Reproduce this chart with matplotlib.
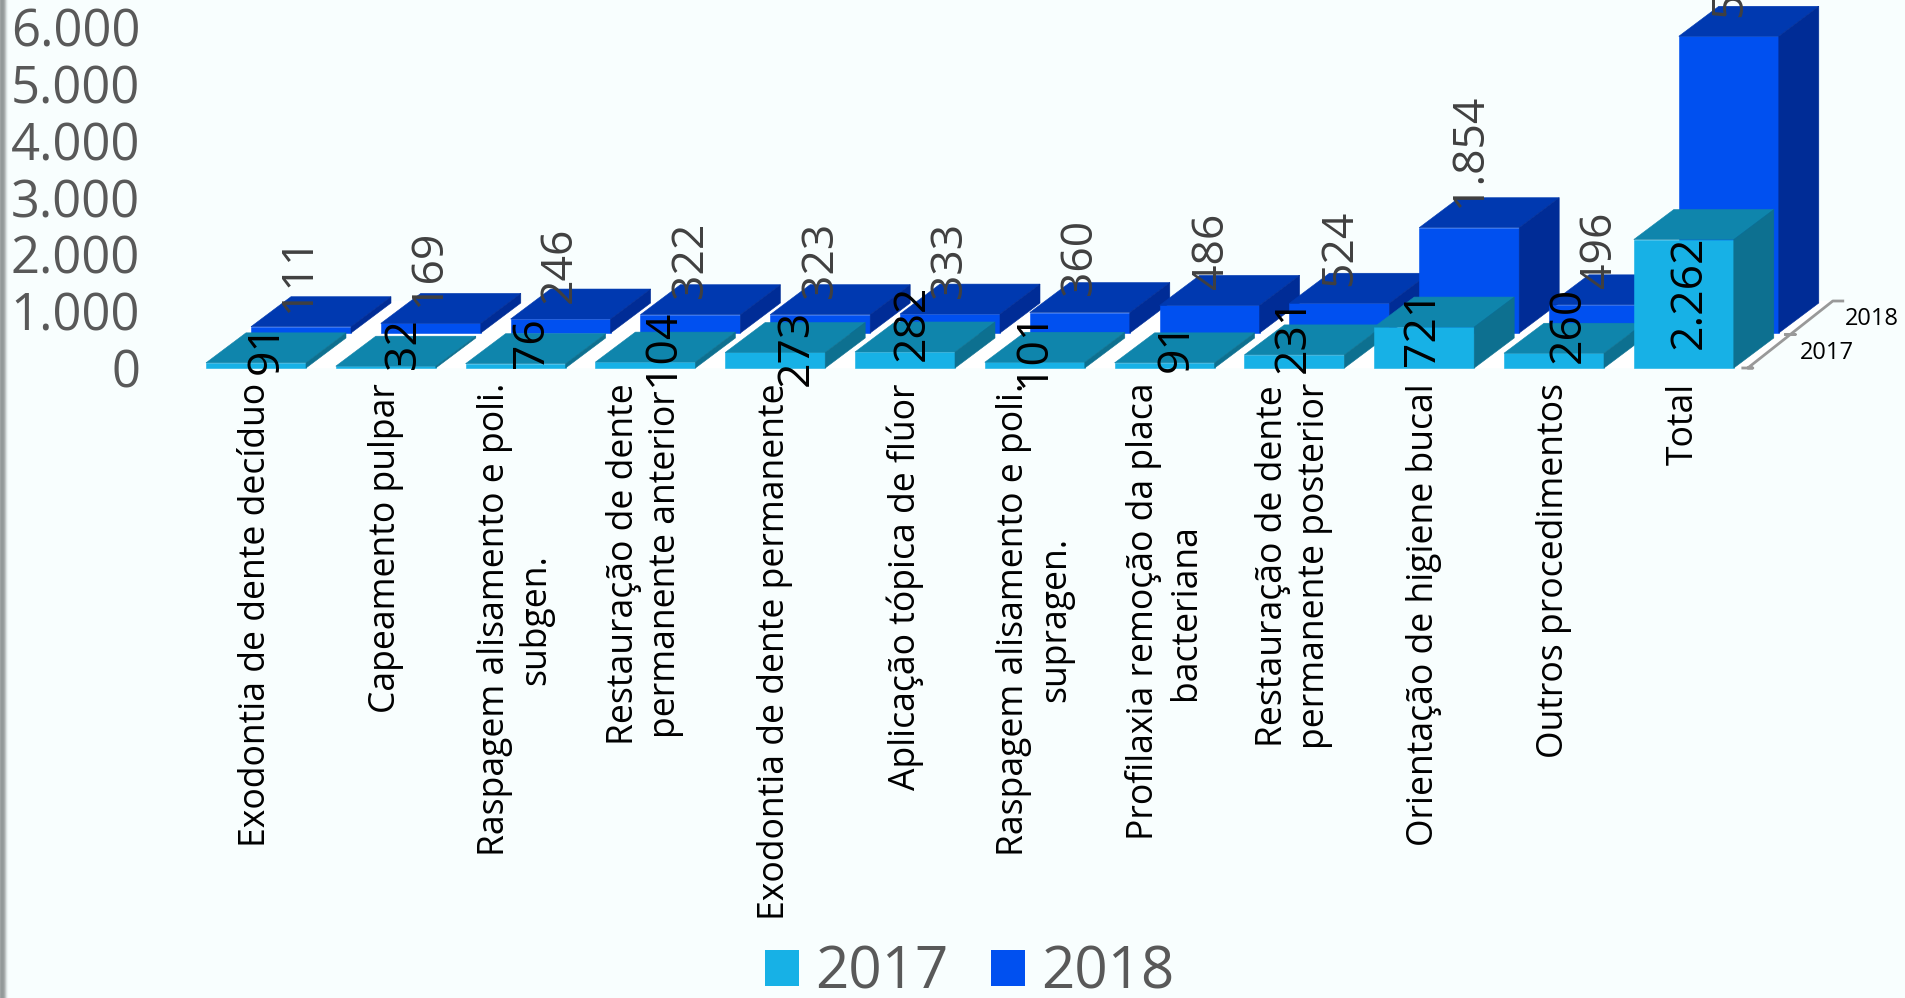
import numpy as np
import matplotlib
matplotlib.use("Agg")
import matplotlib.pyplot as plt
from matplotlib.patches import Polygon, Patch

plt.rcParams['font.family'] = ['Open Sans', 'DejaVu Sans']

# ---- data ----
categories = ["Exodontia de dente decíduo", "Capeamento pulpar",
              "Raspagem alisamento e poli.\nsubgen.",
              "Restauração de dente\npermanente anterior",
              "Exodontia de dente permanente", "Aplicação tópica de flúor",
              "Raspagem alisamento e poli.\nsupragen.",
              "Profilaxia remoção da placa\nbacteriana",
              "Restauração de dente\npermanente posterior",
              "Orientação de higiene bucal", "Outros procedimentos", "Total"]
values_2017 = [91, 32, 76, 104, 273, 282, 101, 91, 231, 721, 260, 2262]
values_2018 = [111, 169, 246, 322, 323, 333, 360, 486, 524, 1854, 496, 5224]
labels_2017 = ["91", "32", "76", "104", "273", "282", "101", "91", "231", "721", "260", "2.262"]
labels_2018 = ["111", "169", "246", "322", "323", "333", "360", "486", "524", "1.854", "496", "5.224"]
series_names = ["2017", "2018"]
y_ticks = [0, 1000, 2000, 3000, 4000, 5000, 6000]
y_ticklabels = ["0", "1.000", "2.000", "3.000", "4.000", "5.000", "6.000"]

# ---- layout (figure pixels) ----
W, H = 1905, 998
AX_LEFT, AX_BASE = 150, 368
PX_PER_CAT, PX_PER_UNIT = 129.8, 0.0568
FIRST_CENTER = 256
BAR_W = 100
DEPTH_X, DEPTH_Y = 40, 30
ROW_X, ROW_Y = 45, 35
# label nudges (px): horizontal from bar centre, vertical above bar top
nudge_2017_x = [10, 18, 16, 17, 21, 7, -1, 12, -1, -1, 15, 6]
nudge_2017_y = [14, 23, 21, 14, 4.5, 29, 13, 16, 20, -1, 28, -52.5]
nudge_2018_x = [-2, -2, -1, 0, 1, 0, 0, 2, 1, 1, 1, 1]
nudge_2018_y = [52.7, 56, 54, 54.7, 54.7, 54, 55.6, 54.4, 55.2, 77.7, 54.8, 76]

BG = "#F8FEFE"
C17 = ("#17B1E6", "#0F85AC", "#0D7090")
C18 = ("#0050F0", "#0039B0", "#002C96")
GREY = "#595959"

fig = plt.figure(figsize=(W / 100, H / 100), dpi=100, facecolor=BG)

# soft grey edge down the left side of the slide
edge = np.array([[.62, .64, .64], [.58, .60, .60], [.58, .60, .60], [.60, .62, .62],
                 [.66, .68, .68], [.76, .78, .78], [.86, .89, .89], [.93, .96, .96],
                 [.97, .99, .99]])
fig.figimage(np.repeat(edge[None, :, :], H, axis=0), 0, 0, zorder=0)

ax = fig.add_axes([AX_LEFT / W, (H - AX_BASE) / H, (W - AX_LEFT) / W, AX_BASE / H])
ax.patch.set_visible(False)
for s in ax.spines.values():
    s.set_visible(False)
ax.set_xlim((AX_LEFT - FIRST_CENTER) / PX_PER_CAT, (W - FIRST_CENTER) / PX_PER_CAT)
ax.set_ylim(0, AX_BASE / PX_PER_UNIT)

bw = BAR_W / PX_PER_CAT
dx, dy = DEPTH_X / PX_PER_CAT, DEPTH_Y / PX_PER_UNIT
rx, ry = ROW_X / PX_PER_CAT, ROW_Y / PX_PER_UNIT
n = len(categories)


def poly(points, color, z):
    ax.add_patch(Polygon(points, closed=True, facecolor=color, edgecolor=color,
                         linewidth=0.4, zorder=z, clip_on=False))


# white floor under the bars
fx0, fx1 = -0.5 * bw - 0.05, (n - 1) + 0.5 * bw + 14 / PX_PER_CAT
poly([(fx0, 0), (fx1, 0), (fx1 + 85 / PX_PER_CAT, 67 / PX_PER_UNIT),
      (fx0 + 85 / PX_PER_CAT, 67 / PX_PER_UNIT)], "#FFFFFF", 1)


def bar(center, base, value, colors, z):
    l, r = center - bw / 2, center + bw / 2
    t = base + value
    poly([(l, base), (r, base), (r, t), (l, t)], colors[0], z)
    poly([(l, t), (r, t), (r + dx, t + dy), (l + dx, t + dy)], colors[1], z)
    poly([(r, base), (r + dx, base + dy), (r + dx, t + dy), (r, t)], colors[2], z)


for i in range(n):
    bar(i + rx, ry, values_2018[i], C18, 2 + i * 0.01)
for i in range(n):
    bar(i, 0, values_2017[i], C17, 3 + i * 0.01)

for i in range(n):
    ax.annotate(labels_2018[i], (i + rx, ry + values_2018[i]),
                xytext=(nudge_2018_x[i] * .72, nudge_2018_y[i] * .72), textcoords='offset points',
                rotation=90, ha='center', va='center', fontsize=32, color="#404040",
                zorder=5, annotation_clip=False, rotation_mode='anchor')
for i in range(n):
    ax.annotate(labels_2017[i], (i, values_2017[i]),
                xytext=(nudge_2017_x[i] * .72, nudge_2017_y[i] * .72), textcoords='offset points',
                rotation=90, ha='center', va='center', fontsize=32, color="#000000",
                zorder=6, annotation_clip=False, rotation_mode='anchor')

# value and category axes
ax.set_yticks(y_ticks)
ax.set_yticklabels(y_ticklabels, fontsize=36.5, color=GREY)
ax.tick_params(axis='y', length=0, pad=7)
ax.set_xticks(range(n))
ax.set_xticklabels(categories, rotation=90, ha='center', va='top', fontsize=25.6,
                   color="#000000", linespacing=1.22, multialignment='center')
ax.tick_params(axis='x', length=0, pad=10.8)
for lbl in ax.get_xticklabels():
    lbl.set_x(lbl.get_position()[0])

# depth axis
sx = (n - 1) + bw / 2 + 14 / PX_PER_CAT
ex, ey = sx + 85 / PX_PER_CAT, 67 / PX_PER_UNIT
mx, tick = sx + (ex - sx) / 2, 5 / PX_PER_CAT
ax.plot([sx - tick, sx + tick, sx, mx, mx - tick, mx + tick, mx, ex, ex + 2 * tick],
        [0, 0, 0, ey / 2, ey / 2, ey / 2, ey / 2, ey, ey],
        color="#999999", lw=2, clip_on=False, zorder=4)
ax.text(sx + 79 / PX_PER_CAT, 15 / PX_PER_UNIT, series_names[0], fontsize=17, color="#000000",
        ha='center', va='center', clip_on=False)
ax.text(sx + 124 / PX_PER_CAT, 49 / PX_PER_UNIT, series_names[1], fontsize=17, color="#000000",
        ha='center', va='center', clip_on=False)

# legend
handles = [Patch(facecolor=C17[0], edgecolor='none', label=series_names[0]),
           Patch(facecolor=C18[0], edgecolor='none', label=series_names[1])]
leg = fig.legend(handles=handles, ncol=2, loc='center', bbox_to_anchor=(970 / W, (H - 973) / H),
                 frameon=False, fontsize=42, labelcolor=GREY, borderpad=0, borderaxespad=0,
                 handlelength=0.58, handleheight=0.58, handletextpad=0.28, columnspacing=0.73)

fig.savefig("out.png", dpi=100, facecolor=BG)
